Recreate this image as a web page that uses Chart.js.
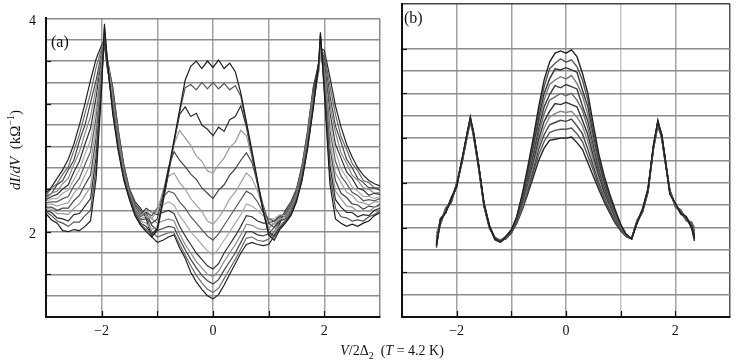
<!DOCTYPE html>
<html><head><meta charset="utf-8">
<script src="https://cdn.jsdelivr.net/npm/chart.js@4.4.1/dist/chart.umd.min.js"></script>
<style>
body{margin:0;background:#fff;}
#wrap{position:relative;width:736px;height:363px;overflow:hidden;font-family:"Liberation Serif","DejaVu Serif",serif;color:#111;}
canvas{position:absolute;top:0;}
.t{position:absolute;white-space:nowrap;}
</style></head>
<body>
<div id="wrap">
<canvas id="ca" width="390" height="363" style="left:0"></canvas>
<canvas id="cb" width="346" height="363" style="left:390px"></canvas>
<div class="t" style="left:51px;top:33px;font-size:16px;">(a)</div>
<div class="t" style="left:404px;top:9px;font-size:16px;">(b)</div>
<div class="t" id="ytitle" style="left:14px;top:150px;font-size:15px;transform:translate(-50%,-50%) rotate(-90deg);"><i>dI</i>/<i>dV</i>&nbsp; (kΩ<sup style="font-size:10px">−1</sup>)</div>
<div class="t" style="left:392px;top:352px;font-size:14px;transform:translate(-50%,-50%);"><i>V</i>/2Δ<sub style="font-size:10px">2</sub>&nbsp; (<i>T</i> = 4.2 K)</div>
</div>
<script>
// ---------- panel (a) ----------
const X_A = [-3.0,-2.9,-2.8,-2.7,-2.6,-2.5,-2.4,-2.3,-2.2,-2.1,-2.0,-1.95,-1.9,-1.8,-1.7,-1.6,-1.5,-1.4,-1.3,
 -1.2,-1.1,-1.0,-0.9,-0.8,-0.7,-0.6,-0.5,-0.4,-0.3,-0.2,-0.1,0,0.1,0.2,0.3,0.4,0.5,0.6,0.7,0.8,0.9,1.0,1.1,1.2,
 1.3,1.4,1.5,1.6,1.7,1.8,1.9,1.93,2.0,2.1,2.2,2.3,2.4,2.5,2.6,2.7,2.8,2.9,3.0];

const A0 = [2.17,2.11,2.08,2.01,2.0,2.02,2.01,2.05,2.1,2.5,3.35,3.95, 3.62,3.1,2.75,2.48,2.3,2.15,2.06,
 2.0,1.95,2.02,2.3,2.58,2.86,3.14,3.42,3.55,3.6,3.53,3.6,3.54,3.61,3.53,3.58,3.5,3.3,3.03,2.76,2.48,2.2,1.97,1.92,2.02,
 2.08,2.15,2.28,2.48,2.78,3.15,3.58,3.87, 3.3,2.45,2.12,2.08,2.05,2.07,2.05,2.08,2.1,2.15,2.18];
const A1 = [2.19,2.15,2.1,2.08,2.05,2.09,2.09,2.15,2.2,2.6,3.38,3.9, 3.6,3.12,2.77,2.49,2.31,2.16,2.07,
 2.02,1.97,2.0,2.28,2.56,2.84,3.12,3.35,3.38,3.33,3.4,3.34,3.4,3.34,3.39,3.33,3.37,3.27,3.0,2.73,2.46,2.2,1.98,1.95,2.03,
 2.09,2.16,2.29,2.49,2.79,3.17,3.55,3.82, 3.33,2.53,2.22,2.14,2.13,2.1,2.11,2.1,2.14,2.16,2.2];
const A2 = [2.2,2.18,2.13,2.12,2.1,2.16,2.17,2.24,2.31,2.7,3.42,3.86, 3.58,3.14,2.78,2.5,2.32,2.17,2.08,
 2.05,1.98,2.03,2.27,2.55,2.84,3.1,3.17,3.08,3.11,3.0,2.96,2.9,2.98,2.94,3.05,3.08,3.18,2.98,2.72,2.45,2.2,2.0,1.96,2.04,
 2.1,2.17,2.3,2.5,2.81,3.18,3.6,3.85, 3.37,2.62,2.3,2.23,2.18,2.18,2.14,2.16,2.15,2.2,2.22];
const A3 = [2.22,2.21,2.17,2.17,2.16,2.22,2.26,2.34,2.42,2.79,3.45,3.92, 3.62,3.16,2.8,2.52,2.32,2.18,2.1,
 2.08,2.02,2.05,2.3,2.55,2.82,2.95,2.88,2.81,2.71,2.66,2.57,2.55,2.63,2.69,2.79,2.84,2.95,2.9,2.7,2.45,2.22,2.03,1.98,2.06,
 2.11,2.18,2.31,2.51,2.82,3.2,3.52,3.76, 3.4,2.7,2.38,2.31,2.24,2.23,2.19,2.2,2.19,2.23,2.24];
const A4 = [2.23,2.23,2.2,2.22,2.22,2.29,2.34,2.44,2.53,2.88,3.48,3.82, 3.56,3.18,2.82,2.53,2.33,2.19,2.11,
 2.12,2.08,2.12,2.35,2.6,2.75,2.67,2.61,2.54,2.49,2.41,2.36,2.31,2.39,2.44,2.53,2.59,2.67,2.74,2.65,2.45,2.25,2.08,2.04,2.1,
 2.12,2.19,2.32,2.53,2.84,3.22,3.57,3.8, 3.43,2.78,2.48,2.36,2.32,2.26,2.25,2.21,2.24,2.23,2.26];
const A5 = [2.25,2.26,2.24,2.26,2.27,2.36,2.42,2.53,2.64,2.98,3.52,3.88, 3.6,3.2,2.83,2.54,2.34,2.2,2.12,
 2.15,2.12,2.2,2.38,2.52,2.55,2.46,2.4,2.31,2.25,2.19,2.1,2.07,2.13,2.21,2.31,2.37,2.46,2.55,2.5,2.38,2.22,2.1,2.07,2.12,
 2.13,2.2,2.33,2.54,2.85,3.23,3.5,3.72, 3.47,2.87,2.55,2.46,2.37,2.34,2.28,2.27,2.25,2.28,2.28];
const A6 = [2.27,2.28,2.28,2.31,2.33,2.43,2.5,2.63,2.75,3.07,3.55,3.78, 3.55,3.22,2.85,2.55,2.35,2.21,2.14,
 2.18,2.15,2.22,2.32,2.38,2.36,2.28,2.22,2.14,2.08,2.02,1.96,1.92,1.98,2.06,2.14,2.22,2.3,2.38,2.35,2.28,2.18,2.12,2.1,2.14,
 2.14,2.21,2.34,2.55,2.86,3.25,3.56,3.78, 3.5,2.95,2.66,2.52,2.45,2.37,2.34,2.29,2.3,2.29,2.31];
const A7 = [2.28,2.31,2.31,2.36,2.39,2.49,2.58,2.73,2.86,3.16,3.58,3.84, 3.6,3.24,2.87,2.56,2.36,2.22,2.15,
 2.2,2.18,2.2,2.25,2.28,2.25,2.15,2.08,2.0,1.94,1.88,1.82,1.78,1.84,1.92,2.0,2.08,2.16,2.26,2.24,2.2,2.15,2.12,2.12,2.16,
 2.15,2.22,2.35,2.56,2.88,3.27,3.52,3.7, 3.53,3.03,2.75,2.59,2.51,2.42,2.38,2.33,2.33,2.31,2.33];
const A8 = [2.3,2.33,2.35,2.4,2.44,2.56,2.66,2.82,2.97,3.26,3.62,3.74, 3.54,3.26,2.88,2.57,2.37,2.23,2.16,
 2.22,2.18,2.16,2.18,2.2,2.17,2.05,1.96,1.88,1.8,1.74,1.68,1.65,1.7,1.8,1.88,1.96,2.05,2.15,2.14,2.1,2.08,2.08,2.1,2.15,
 2.16,2.23,2.36,2.57,2.89,3.28,3.58,3.75, 3.57,3.12,2.82,2.69,2.56,2.5,2.41,2.39,2.34,2.36,2.35];
const A9 = [2.31,2.36,2.38,2.45,2.5,2.63,2.75,2.92,3.08,3.35,3.65,3.8, 3.6,3.28,2.9,2.58,2.37,2.24,2.18,
 2.2,2.12,2.08,2.1,2.12,2.1,1.98,1.88,1.8,1.72,1.66,1.6,1.58,1.63,1.72,1.8,1.88,1.97,2.07,2.06,2.03,2.02,2.03,2.08,2.14,
 2.17,2.24,2.37,2.58,2.91,3.3,3.5,3.68, 3.6,3.2,2.93,2.74,2.64,2.53,2.48,2.41,2.4,2.36,2.37];
const A10 = [2.33,2.36,2.44,2.48,2.58,2.67,2.85,3.0,3.21,3.42,3.68,3.76, 3.58,3.3,2.92,2.6,2.38,2.25,2.19,
 2.18,2.06,2.01,2.03,2.05,2.04,1.93,1.83,1.74,1.66,1.59,1.54,1.51,1.55,1.64,1.72,1.8,1.9,2.0,2.0,1.97,1.96,1.98,2.04,2.12,
 2.18,2.25,2.38,2.6,2.92,3.32,3.55,3.72, 3.63,3.28,2.99,2.84,2.68,2.6,2.5,2.46,2.41,2.41,2.39];
const A11 = [2.34,2.41,2.45,2.54,2.61,2.76,2.91,3.11,3.3,3.54,3.72,3.82, 3.62,3.33,2.93,2.61,2.39,2.26,2.2,
 2.15,2.0,1.95,1.97,1.99,1.99,1.88,1.78,1.68,1.59,1.52,1.46,1.43,1.47,1.56,1.65,1.74,1.84,1.94,1.95,1.92,1.91,1.93,2.0,2.1,
 2.19,2.27,2.39,2.61,2.94,3.33,3.52,3.7, 3.67,3.37,3.1,2.89,2.77,2.64,2.57,2.48,2.46,2.41,2.41];
const A12 = [2.36,2.42,2.5,2.58,2.68,2.82,3.0,3.2,3.42,3.62,3.75,3.8, 3.62,3.35,2.95,2.62,2.4,2.28,2.22,
 2.12,1.95,1.9,1.92,1.95,1.97,1.85,1.75,1.62,1.53,1.46,1.4,1.37,1.41,1.5,1.6,1.7,1.8,1.88,1.9,1.88,1.87,1.88,1.96,2.08,
 2.2,2.28,2.4,2.62,2.95,3.35,3.58,3.72, 3.7,3.45,3.18,2.98,2.82,2.7,2.6,2.53,2.48,2.45,2.43];
const SERIES_A = [A0,A1,A2,A3,A4,A5,A6,A7,A8,A9,A10,A11,A12];
const COLORS_A = ['#1a1a1a','#555','#2a2a2a','#9a9a9a','#444','#a0a0a0','#5a5a5a','#aaaaaa','#333','#888','#444','#6a6a6a','#222'];

// ---------- panel (b) ----------
const X_B = [-2.37,-2.3,-2.2,-2.1,-2.0,-1.9,-1.8,-1.75,-1.7,-1.6,-1.5,-1.4,-1.3,-1.2,
 -1.1,-1.0,-0.9,-0.8,-0.7,-0.6,-0.5,-0.4,-0.3,-0.2,-0.1,0,0.1,0.2,0.3,0.4,0.5,0.6,0.7,0.8,0.9,1.0,1.1,1.2,
 1.3,1.4,1.5,1.6,1.68,1.75,1.8,1.9,2.0,2.1,2.2,2.3,2.35];

const B0 = [1.84,2.06,2.14,2.25,2.37,2.62,2.86,2.99,2.87,2.56,2.21,2.01,1.9,1.87,
 1.92,1.98,2.1,2.3,2.54,2.8,3.08,3.32,3.48,3.56,3.58,3.56,3.59,3.53,3.38,3.2,2.92,2.66,2.46,2.3,2.16,2.03,1.94,1.9,
 2.04,2.16,2.34,2.74,2.95,2.83,2.66,2.3,2.22,2.13,2.1,2.0,1.9];
const B1 = [1.9,2.02,2.17,2.22,2.4,2.58,2.84,2.95,2.85,2.54,2.19,1.99,1.91,1.88,
 1.92,1.98,2.09,2.29,2.52,2.77,3.03,3.26,3.42,3.47,3.51,3.48,3.5,3.44,3.32,3.14,2.87,2.63,2.44,2.28,2.15,2.02,1.94,1.9,
 2.06,2.14,2.32,2.7,2.92,2.8,2.63,2.34,2.19,2.16,2.06,2.05,1.97];
const B2 = [1.82,2.08,2.13,2.27,2.36,2.61,2.87,2.96,2.88,2.57,2.22,2.02,1.9,1.88,
 1.92,1.97,2.09,2.27,2.49,2.73,2.98,3.2,3.33,3.42,3.41,3.43,3.41,3.39,3.23,3.08,2.83,2.6,2.41,2.27,2.14,2.02,1.94,1.9,
 2.05,2.17,2.35,2.73,2.93,2.84,2.67,2.31,2.21,2.12,2.09,1.99,1.88];
const B3 = [1.95,2.04,2.18,2.23,2.39,2.59,2.83,2.94,2.84,2.53,2.2,2.0,1.91,1.89,
 1.91,1.97,2.08,2.26,2.47,2.7,2.94,3.14,3.28,3.32,3.35,3.33,3.36,3.29,3.18,3.01,2.78,2.56,2.39,2.25,2.12,2.01,1.93,1.9,
 2.07,2.15,2.33,2.71,2.9,2.81,2.64,2.33,2.18,2.15,2.07,2.04,2.0];
const B4 = [1.86,2.07,2.15,2.26,2.38,2.61,2.86,2.97,2.86,2.55,2.21,2.01,1.89,1.87,
 1.91,1.97,2.08,2.24,2.44,2.66,2.89,3.08,3.19,3.27,3.25,3.28,3.26,3.24,3.09,2.95,2.74,2.53,2.37,2.23,2.11,2.01,1.93,1.9,
 2.05,2.16,2.34,2.72,2.96,2.82,2.66,2.32,2.2,2.14,2.08,2.01,1.92];
const B5 = [1.88,2.03,2.16,2.23,2.4,2.6,2.85,2.98,2.85,2.54,2.19,2.0,1.9,1.88,
 1.91,1.97,2.07,2.23,2.42,2.63,2.84,3.02,3.14,3.17,3.2,3.18,3.2,3.14,3.05,2.89,2.69,2.5,2.35,2.22,2.1,2.0,1.93,1.9,
 2.04,2.14,2.32,2.72,2.93,2.83,2.65,2.33,2.2,2.14,2.09,2.03,1.95];
const B6 = [1.84,2.05,2.14,2.25,2.37,2.6,2.84,2.96,2.87,2.56,2.2,2.01,1.91,1.88,
 1.91,1.96,2.06,2.22,2.4,2.59,2.79,2.95,3.04,3.11,3.1,3.12,3.1,3.08,2.96,2.83,2.64,2.47,2.32,2.2,2.09,1.99,1.93,1.9,
 2.06,2.15,2.33,2.73,2.94,2.81,2.64,2.31,2.21,2.13,2.07,2.02,1.91];
const B7 = [1.92,2.06,2.15,2.24,2.38,2.59,2.85,2.97,2.86,2.55,2.21,2.0,1.9,1.87,
 1.91,1.96,2.06,2.2,2.37,2.56,2.74,2.89,2.99,3.02,3.04,3.03,3.04,2.99,2.91,2.77,2.6,2.44,2.3,2.18,2.08,1.99,1.93,1.9,
 2.05,2.15,2.33,2.72,2.95,2.82,2.65,2.32,2.19,2.15,2.08,2.03,1.97];
const B8 = [1.85,2.04,2.16,2.24,2.39,2.61,2.86,2.98,2.86,2.55,2.2,2.0,1.9,1.88,
 1.9,1.96,2.05,2.19,2.35,2.52,2.7,2.83,2.92,2.94,2.96,2.95,2.97,2.91,2.84,2.7,2.55,2.4,2.28,2.16,2.06,1.98,1.92,1.9,
 2.05,2.15,2.34,2.72,2.94,2.83,2.66,2.32,2.2,2.14,2.08,2.01,1.9];
const B9 = [1.89,2.06,2.14,2.25,2.38,2.6,2.85,2.96,2.85,2.55,2.21,2.01,1.9,1.88,
 1.9,1.95,2.05,2.17,2.32,2.49,2.65,2.77,2.85,2.87,2.88,2.88,2.89,2.84,2.77,2.64,2.51,2.37,2.25,2.15,2.05,1.98,1.92,1.9,
 2.04,2.16,2.33,2.71,2.93,2.82,2.64,2.33,2.21,2.13,2.09,2.02,1.94];
const B10 = [1.87,2.05,2.15,2.23,2.38,2.6,2.84,2.97,2.87,2.56,2.2,2.0,1.91,1.88,
 1.9,1.95,2.04,2.16,2.3,2.45,2.6,2.71,2.78,2.79,2.8,2.8,2.81,2.76,2.7,2.58,2.46,2.34,2.23,2.13,2.04,1.97,1.92,1.9,
 2.06,2.14,2.32,2.72,2.94,2.81,2.65,2.31,2.2,2.14,2.07,2.02,1.92];
const SERIES_B = [B0,B1,B2,B3,B4,B5,B6,B7,B8,B9,B10];
const COLORS_B = ['#222','#555','#333','#777','#3a3a3a','#666','#333','#888','#444','#555','#222'];

// ---------- axes ----------
const X_GRID = [-3,-2,-1,0,1,2,3];
const X_TICK_LABELS = [-2,0,2];
const Y_GRID = [1.2,1.4,1.6,1.8,2.0,2.2,2.4,2.6,2.8,3.0,3.2,3.4,3.6,3.8,4.0];
const Y_TICK_LABELS = [2,4];
const Y_TICK_MARKS = [1.6,2.0,2.4,2.8,3.2,3.6];
const X_TICK_MARKS = [-2,-1,0,1,2];

const FONT = 'Liberation Serif';
const near = (a,b)=>Math.abs(a-b)<1e-6;

const tickMarks = {
  id:'tickMarks',
  afterDraw(chart){
    const {ctx, chartArea:a, scales:{x,y}} = chart;
    ctx.save();
    ctx.strokeStyle='#111'; ctx.lineWidth=1.2;
    Y_TICK_MARKS.forEach(v=>{const py=Math.round(y.getPixelForValue(v))+0.5; ctx.beginPath(); ctx.moveTo(a.left,py); ctx.lineTo(a.left+5,py); ctx.stroke();});
    X_TICK_MARKS.forEach(v=>{const px=Math.round(x.getPixelForValue(v))+0.5; ctx.beginPath(); ctx.moveTo(px,a.bottom); ctx.lineTo(px,a.bottom-6); ctx.stroke();});
    ctx.restore();
  }
};

function makeChart(id, xs, series, colors, showY, pad, yW, panelB, lw){
  return new Chart(document.getElementById(id), {
    type:'line',
    data:{datasets: series.map((ys,i)=>({
      data: xs.map((x,j)=>({x:x, y:ys[j]})),
      borderColor: colors[i], borderWidth: lw, pointRadius:0, tension:0, fill:false
    }))},
    options:{
      responsive:false, animation:false, devicePixelRatio:1,
      plugins:{legend:{display:false}, tooltip:{enabled:false}},
      layout:{padding:pad},
      scales:{
        x:{type:'linear', min:-3, max:3,
          afterBuildTicks:s=>{s.ticks = X_GRID.map(v=>({value:v}));},
          ticks:{autoSkip:false, maxRotation:0, padding:6, color:'#111', font:{family:FONT,size:14},
            callback:v=>X_TICK_LABELS.some(t=>near(t,v)) ? (v<0?'\u2212'+Math.abs(v):String(v)) : ''},
          grid:{drawTicks:false, lineWidth:1.5,
            color:c=>{const v=c.tick.value; if(near(v,-3)) return 'rgba(0,0,0,0)'; if(near(v,3)) return panelB?'#555':'#8a8a8a'; return near(v,1)&&panelB?'#c4c4c4':'#a2a2a2';}},
          border:{color:'#111', width:2},
          afterFit:s=>{s.height = 46;}
        },
        y:{type:'linear', min:1.2, max:4.0,
          afterBuildTicks:s=>{s.ticks = Y_GRID.map(v=>({value:v}));},
          ticks:{display:showY, autoSkip:false, padding:10, labelOffset:3, color:'#111', font:{family:FONT,size:14},
            callback:v=>Y_TICK_LABELS.some(t=>near(t,v)) ? String(Math.round(v)) : ''},
          grid:{drawTicks:false, lineWidth:1.5,
            color:c=>{const v=c.tick.value; if(near(v,1.2)) return 'rgba(0,0,0,0)'; if(panelB && near(v,3.8)) return 'rgba(0,0,0,0)'; if(near(v,4)) return panelB?'#444':'#8a8a8a'; return '#8c8c8c';}},
          border:{color:'#111', width:2},
          afterFit:s=>{s.width = yW;}
        }
      }
    },
    plugins:[tickMarks]
  });
}

makeChart('ca', X_A, SERIES_A, COLORS_A, true, {top:5,right:10,left:0,bottom:0}, 46, false, 1.2);
makeChart('cb', X_B, SERIES_B, COLORS_B, false, {top:4,right:1,left:0,bottom:0}, 12, true, 1.4);
</script>
</body></html>
